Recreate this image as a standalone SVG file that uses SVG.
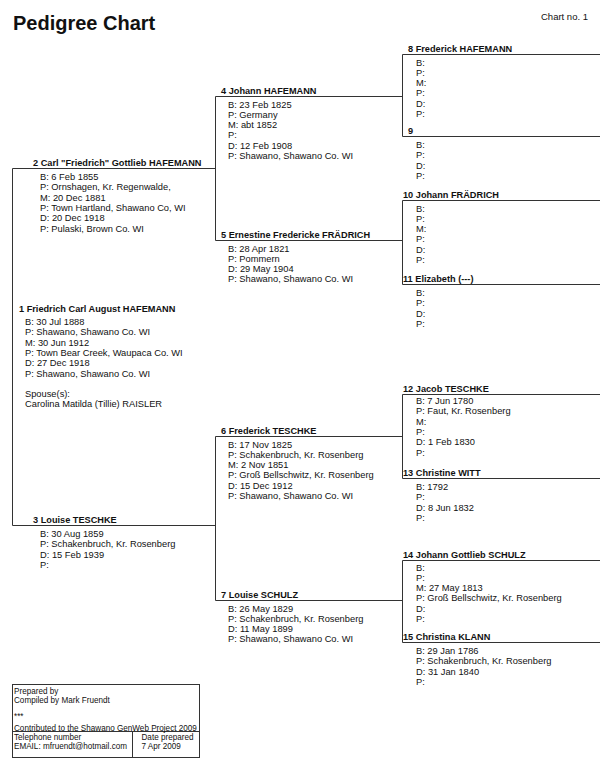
<svg xmlns="http://www.w3.org/2000/svg" width="600" height="765" viewBox="0 0 600 765">
<style>
text{font-family:"Liberation Sans",Arial,sans-serif;fill:#111}
.t{font-size:20px;font-weight:bold}
.c{font-size:9.5px}
.n{font-size:9.2px;font-weight:bold}
.d{font-size:9.3px}
.f{font-size:8.15px}
.ln{stroke:#333;stroke-width:1;fill:none}
</style>
<rect width="600" height="765" fill="#fff"/>
<text class="t" x="13" y="30">Pedigree Chart</text>
<text class="c" x="541" y="20">Chart no. 1</text>

<g id="connectors" class="ln">
<path d="M12.5,168.5H215.5M12.5,168.5V525.5M12.5,525.5H215.5"/>
<path d="M215.5,96.5V240.5M215.5,96.5H402.5M215.5,240.5H402.5"/>
<path d="M215.5,436.5V600.5M215.5,436.5H402.5M215.5,600.5H402.5"/>
<path d="M402.5,54.5V136.5M402.5,54.5H600M402.5,136.5H600"/>
<path d="M402.5,200.5V284.5M402.5,200.5H600M402.5,284.5H600"/>
<path d="M402.5,394.5V478.5M402.5,394.5H600M402.5,478.5H600"/>
<path d="M402.5,560.5V642.5M402.5,560.5H600M402.5,642.5H600"/>
</g>

<g id="p1">
<text class="n" x="19" y="312">1 Friedrich Carl August HAFEMANN</text>
<text class="d" x="25" y="325">B: 30 Jul 1888<tspan x="25" dy="10.3">P: Shawano, Shawano Co. WI</tspan><tspan x="25" dy="10.3">M: 30 Jun 1912</tspan><tspan x="25" dy="10.3">P: Town Bear Creek, Waupaca Co. WI</tspan><tspan x="25" dy="10.3">D: 27 Dec 1918</tspan><tspan x="25" dy="10.3">P: Shawano, Shawano Co. WI</tspan><tspan x="25" dy="20.6">Spouse(s):</tspan><tspan x="25" dy="10.3">Carolina Matilda (Tillie) RAISLER</tspan></text>
</g>

<g id="p2">
<text class="n" x="33" y="165.5">2 Carl "Friedrich" Gottlieb HAFEMANN</text>
<text class="d" x="40" y="180">B: 6 Feb 1855<tspan x="40" dy="10.3">P: Ornshagen, Kr. Regenwalde,</tspan><tspan x="40" dy="10.3">M: 20 Dec 1881</tspan><tspan x="40" dy="10.3">P: Town Hartland, Shawano Co, WI</tspan><tspan x="40" dy="10.3">D: 20 Dec 1918</tspan><tspan x="40" dy="10.3">P: Pulaski, Brown Co. WI</tspan></text>
</g>

<g id="p3">
<text class="n" x="33" y="522.5">3 Louise TESCHKE</text>
<text class="d" x="40" y="537">B: 30 Aug 1859<tspan x="40" dy="10.3">P: Schakenbruch, Kr. Rosenberg</tspan><tspan x="40" dy="10.3">D: 15 Feb 1939</tspan><tspan x="40" dy="10.3">P:</tspan></text>
</g>

<g id="p4">
<text class="n" x="221" y="93.5">4 Johann HAFEMANN</text>
<text class="d" x="228" y="107.5">B: 23 Feb 1825<tspan x="228" dy="10.3">P: Germany</tspan><tspan x="228" dy="10.3">M: abt 1852</tspan><tspan x="228" dy="10.3">P:</tspan><tspan x="228" dy="10.3">D: 12 Feb 1908</tspan><tspan x="228" dy="10.3">P: Shawano, Shawano Co. WI</tspan></text>
</g>

<g id="p5">
<text class="n" x="221" y="237.5">5 Ernestine Fredericke FRÄDRICH</text>
<text class="d" x="228" y="251.5">B: 28 Apr 1821<tspan x="228" dy="10.3">P: Pommern</tspan><tspan x="228" dy="10.3">D: 29 May 1904</tspan><tspan x="228" dy="10.3">P: Shawano, Shawano Co. WI</tspan></text>
</g>

<g id="p6">
<text class="n" x="221" y="433.5">6 Frederick TESCHKE</text>
<text class="d" x="228" y="447.5">B: 17 Nov 1825<tspan x="228" dy="10.3">P: Schakenbruch, Kr. Rosenberg</tspan><tspan x="228" dy="10.3">M: 2 Nov 1851</tspan><tspan x="228" dy="10.3">P: Groß Bellschwitz, Kr. Rosenberg</tspan><tspan x="228" dy="10.3">D: 15 Dec 1912</tspan><tspan x="228" dy="10.3">P: Shawano, Shawano Co. WI</tspan></text>
</g>

<g id="p7">
<text class="n" x="221" y="597.5">7 Louise SCHULZ</text>
<text class="d" x="228" y="611.5">B: 26 May 1829<tspan x="228" dy="10.3">P: Schakenbruch, Kr. Rosenberg</tspan><tspan x="228" dy="10.3">D: 11 May 1899</tspan><tspan x="228" dy="10.3">P: Shawano, Shawano Co. WI</tspan></text>
</g>

<g id="p8">
<text class="n" x="408" y="51.5">8 Frederick HAFEMANN</text>
<text class="d" x="416" y="65.5">B:<tspan x="416" dy="10.3">P:</tspan><tspan x="416" dy="10.3">M:</tspan><tspan x="416" dy="10.3">P:</tspan><tspan x="416" dy="10.3">D:</tspan><tspan x="416" dy="10.3">P:</tspan></text>
</g>

<g id="p9">
<text class="n" x="408" y="133.5">9</text>
<text class="d" x="416" y="148">B:<tspan x="416" dy="10.3">P:</tspan><tspan x="416" dy="10.3">D:</tspan><tspan x="416" dy="10.3">P:</tspan></text>
</g>

<g id="p10">
<text class="n" x="403" y="197.5">10 Johann FRÄDRICH</text>
<text class="d" x="416" y="211.5">B:<tspan x="416" dy="10.3">P:</tspan><tspan x="416" dy="10.3">M:</tspan><tspan x="416" dy="10.3">P:</tspan><tspan x="416" dy="10.3">D:</tspan><tspan x="416" dy="10.3">P:</tspan></text>
</g>

<g id="p11">
<text class="n" x="403" y="281.5">11 Elizabeth (---)</text>
<text class="d" x="416" y="296">B:<tspan x="416" dy="10.3">P:</tspan><tspan x="416" dy="10.3">D:</tspan><tspan x="416" dy="10.3">P:</tspan></text>
</g>

<g id="p12">
<text class="n" x="403" y="391.5">12 Jacob TESCHKE</text>
<text class="d" x="416" y="404">B: 7 Jun 1780<tspan x="416" dy="10.3">P: Faut, Kr. Rosenberg</tspan><tspan x="416" dy="10.3">M:</tspan><tspan x="416" dy="10.3">P:</tspan><tspan x="416" dy="10.3">D: 1 Feb 1830</tspan><tspan x="416" dy="10.3">P:</tspan></text>
</g>

<g id="p13">
<text class="n" x="403" y="475.5">13 Christine WITT</text>
<text class="d" x="416" y="490">B: 1792<tspan x="416" dy="10.3">P:</tspan><tspan x="416" dy="10.3">D: 8 Jun 1832</tspan><tspan x="416" dy="10.3">P:</tspan></text>
</g>

<g id="p14">
<text class="n" x="403" y="557.5">14 Johann Gottlieb SCHULZ</text>
<text class="d" x="416" y="570.5">B:<tspan x="416" dy="10.3">P:</tspan><tspan x="416" dy="10.3">M: 27 May 1813</tspan><tspan x="416" dy="10.3">P: Groß Bellschwitz, Kr. Rosenberg</tspan><tspan x="416" dy="10.3">D:</tspan><tspan x="416" dy="10.3">P:</tspan></text>
</g>

<g id="p15">
<text class="n" x="403" y="639.5">15 Christina KLANN</text>
<text class="d" x="416" y="654">B: 29 Jan 1786<tspan x="416" dy="10.3">P: Schakenbruch, Kr. Rosenberg</tspan><tspan x="416" dy="10.3">D: 31 Jan 1840</tspan><tspan x="416" dy="10.3">P:</tspan></text>
</g>

<g id="footer">
<rect class="ln" x="12.5" y="684.5" width="187" height="73"/>
<path class="ln" d="M12.5,731.5H199.5M132.5,731.5V757.5"/>
<text class="f" x="14" y="694">Prepared by</text>
<text class="f" x="14" y="702.5">Compiled by Mark Fruendt</text>
<text class="f" x="14" y="718.5">***</text>
<text class="f" x="14" y="730.5">Contributed to the Shawano GenWeb Project 2009</text>
<text class="f" x="14" y="740">Telephone number</text>
<text class="f" x="14" y="749">EMAIL: mfruendt@hotmail.com</text>
<text class="f" x="141.5" y="740">Date prepared</text>
<text class="f" x="141.5" y="749">7 Apr 2009</text>
</g>
</svg>
